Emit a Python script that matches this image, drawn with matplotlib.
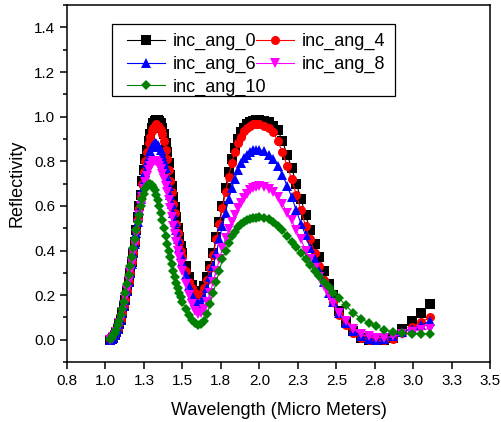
import matplotlib
matplotlib.use('Agg')
import matplotlib.pyplot as plt
from matplotlib.patches import Rectangle
from matplotlib.ticker import MultipleLocator, FormatStrFormatter

plt.rcParams['font.family'] = ['Liberation Sans', 'DejaVu Sans']

# wavelength grid (micro meters)
wavelength = [
    1.03, 1.04, 1.05, 1.06, 1.07, 1.08, 1.09, 1.10, 1.11, 1.12,
    1.13, 1.14, 1.15, 1.16, 1.17, 1.18, 1.19, 1.20, 1.21, 1.22,
    1.23, 1.24, 1.25, 1.26, 1.27, 1.28, 1.29, 1.30, 1.31, 1.32,
    1.33, 1.34, 1.35, 1.36, 1.37, 1.38, 1.39, 1.40, 1.41, 1.42,
    1.43, 1.44, 1.45, 1.46, 1.47, 1.48, 1.49, 1.50,
    1.52, 1.54, 1.56, 1.58, 1.60, 1.62, 1.64, 1.66, 1.68, 1.70,
    1.72, 1.74, 1.76, 1.78, 1.80, 1.82, 1.84, 1.86, 1.88, 1.90,
    1.92, 1.94, 1.96, 1.98, 2.00,
    2.03, 2.06, 2.09, 2.12, 2.15, 2.18, 2.21, 2.24, 2.27, 2.30,
    2.33, 2.36, 2.39, 2.42, 2.45, 2.48,
    2.52, 2.56, 2.61, 2.66, 2.71, 2.76, 2.81, 2.87, 2.93, 2.99, 3.05, 3.11,
]

ang_0 = [
    0.00, 0.005, 0.01, 0.02, 0.035, 0.05, 0.07, 0.09, 0.12, 0.15,
    0.18, 0.22, 0.26, 0.30, 0.35, 0.39, 0.44, 0.49, 0.55, 0.60,
    0.65, 0.71, 0.76, 0.81, 0.85, 0.89, 0.92, 0.95, 0.97, 0.98,
    0.985, 0.985, 0.98, 0.97, 0.95, 0.92, 0.88, 0.84, 0.79, 0.74,
    0.69, 0.64, 0.595, 0.55, 0.50, 0.46, 0.42, 0.39,
    0.33, 0.28, 0.245, 0.22, 0.21, 0.215, 0.24, 0.28, 0.33, 0.39,
    0.46, 0.53, 0.60, 0.68, 0.75, 0.81, 0.86, 0.90, 0.93, 0.95,
    0.965, 0.975, 0.98, 0.985, 0.985,
    0.98, 0.975, 0.96, 0.94, 0.89, 0.83, 0.77, 0.70, 0.63, 0.56,
    0.49, 0.43, 0.37, 0.31, 0.25, 0.20,
    0.13, 0.08, 0.04, 0.01, 0.0, 0.0, 0.0, 0.01, 0.05, 0.085, 0.12, 0.16,
]

ang_4 = [
    0.00, 0.005, 0.01, 0.02, 0.035, 0.05, 0.07, 0.09, 0.12, 0.15,
    0.18, 0.22, 0.26, 0.30, 0.35, 0.39, 0.44, 0.49, 0.54, 0.59,
    0.64, 0.70, 0.75, 0.80, 0.84, 0.88, 0.91, 0.935, 0.95, 0.96,
    0.965, 0.96, 0.955, 0.94, 0.92, 0.89, 0.85, 0.81, 0.76, 0.71,
    0.66, 0.61, 0.57, 0.52, 0.48, 0.44, 0.40, 0.37,
    0.31, 0.26, 0.23, 0.21, 0.20, 0.205, 0.23, 0.27, 0.32, 0.38,
    0.45, 0.52, 0.59, 0.66, 0.73, 0.79, 0.84, 0.88, 0.91, 0.935,
    0.95, 0.96, 0.965, 0.965, 0.965,
    0.96, 0.95, 0.93, 0.89, 0.84, 0.78, 0.72, 0.65, 0.58, 0.51,
    0.45, 0.39, 0.33, 0.27, 0.22, 0.17,
    0.11, 0.065, 0.03, 0.01, 0.0, 0.0, 0.0, 0.005, 0.03, 0.055, 0.08, 0.10,
]

ang_6 = [
    0.00, 0.005, 0.01, 0.02, 0.035, 0.05, 0.07, 0.09, 0.12, 0.15,
    0.18, 0.22, 0.26, 0.30, 0.34, 0.39, 0.43, 0.48, 0.53, 0.58,
    0.63, 0.67, 0.71, 0.75, 0.79, 0.82, 0.845, 0.865, 0.875, 0.88,
    0.88, 0.875, 0.865, 0.85, 0.83, 0.80, 0.77, 0.73, 0.69, 0.65,
    0.61, 0.57, 0.53, 0.49, 0.45, 0.41, 0.38, 0.35,
    0.29, 0.24, 0.20, 0.175, 0.165, 0.17, 0.19, 0.23, 0.28, 0.33,
    0.39, 0.45, 0.51, 0.57, 0.63, 0.68, 0.72, 0.76, 0.79, 0.815,
    0.83, 0.84, 0.85, 0.85, 0.85,
    0.845, 0.83, 0.81, 0.78, 0.74, 0.69, 0.64, 0.58, 0.52, 0.47,
    0.41, 0.36, 0.31, 0.26, 0.21, 0.17,
    0.12, 0.075, 0.04, 0.015, 0.005, 0.0, 0.005, 0.015, 0.035, 0.05, 0.065, 0.085,
]

ang_8 = [
    0.00, 0.005, 0.012, 0.022, 0.037, 0.053, 0.073, 0.095, 0.125, 0.155,
    0.185, 0.225, 0.265, 0.305, 0.345, 0.39, 0.43, 0.475, 0.52, 0.56,
    0.60, 0.64, 0.675, 0.705, 0.735, 0.76, 0.78, 0.79, 0.80, 0.80,
    0.80, 0.79, 0.78, 0.765, 0.745, 0.72, 0.69, 0.66, 0.625, 0.59,
    0.55, 0.51, 0.475, 0.44, 0.40, 0.37, 0.34, 0.31,
    0.25, 0.20, 0.16, 0.13, 0.115, 0.12, 0.14, 0.17, 0.21, 0.26,
    0.31, 0.36, 0.41, 0.455, 0.495, 0.53, 0.56, 0.59, 0.615, 0.635,
    0.655, 0.67, 0.68, 0.685, 0.69,
    0.685, 0.675, 0.66, 0.64, 0.61, 0.57, 0.535, 0.49, 0.45, 0.40,
    0.36, 0.32, 0.28, 0.24, 0.20, 0.165,
    0.12, 0.085, 0.05, 0.025, 0.015, 0.01, 0.01, 0.015, 0.025, 0.035, 0.045, 0.05,
]

ang_10 = [
    0.005, 0.01, 0.02, 0.03, 0.045, 0.065, 0.085, 0.11, 0.14, 0.17,
    0.21, 0.25, 0.29, 0.33, 0.37, 0.41, 0.45, 0.49, 0.53, 0.56,
    0.60, 0.63, 0.655, 0.675, 0.69, 0.70, 0.70, 0.695, 0.685, 0.67,
    0.65, 0.625, 0.60, 0.57, 0.535, 0.50, 0.465, 0.43, 0.40, 0.37,
    0.34, 0.31, 0.28, 0.255, 0.23, 0.21, 0.19, 0.17,
    0.14, 0.11, 0.09, 0.075, 0.065, 0.07, 0.085, 0.115, 0.16, 0.21,
    0.26, 0.31, 0.36, 0.40, 0.435, 0.465, 0.485, 0.505, 0.52, 0.53,
    0.537, 0.542, 0.545, 0.547, 0.548,
    0.545, 0.54, 0.53, 0.51, 0.49, 0.465, 0.44, 0.415, 0.39, 0.36,
    0.335, 0.31, 0.285, 0.26, 0.235, 0.21,
    0.185, 0.155, 0.12, 0.095, 0.075, 0.06, 0.045, 0.035, 0.03, 0.027, 0.027, 0.027,
]

series = [
    ('inc_ang_0', ang_0, 'black', 's'),
    ('inc_ang_4', ang_4, 'red', 'o'),
    ('inc_ang_6', ang_6, 'blue', '^'),
    ('inc_ang_8', ang_8, 'magenta', 'v'),
    ('inc_ang_10', ang_10, 'green', 'D'),
]

x_ticks = [0.75, 1.0, 1.25, 1.5, 1.75, 2.0, 2.25, 2.5, 2.75, 3.0, 3.25, 3.5]
x_labels = ['0.8', '1.0', '1.3', '1.5', '1.8', '2.0', '2.3', '2.5', '2.8', '3.0', '3.3', '3.5']

fig = plt.figure(figsize=(5.02, 4.22), dpi=100)
ax = fig.add_axes([0.1335, 0.142, 0.843, 0.846])

lines = []
for label, ys, color, marker in series:
    ms = 5.5 if marker == 'D' else 6.5
    ln, = ax.plot(wavelength, ys, color=color, marker=marker, ms=ms, lw=0.8,
                  markeredgewidth=0, label=label)
    lines.append(ln)

ax.set_xlim(0.75, 3.5)
ax.set_ylim(-0.1, 1.5)
ax.set_xticks(x_ticks)
ax.set_xticklabels(x_labels)
ax.set_yticks([0.0, 0.2, 0.4, 0.6, 0.8, 1.0, 1.2, 1.4])
ax.yaxis.set_minor_locator(MultipleLocator(0.1))
ax.yaxis.set_major_formatter(FormatStrFormatter('%.1f'))

ax.tick_params(axis='both', which='major', direction='out', length=5, width=1.1,
               labelsize=11, top=False, right=False)
ax.tick_params(axis='y', which='minor', direction='out', length=3, width=1.1)
for sp in ax.spines.values():
    sp.set_linewidth(1.1)

ax.set_xlabel('Wavelength (Micro Meters)', fontsize=13, labelpad=10)
ax.set_ylabel('Reflectivity', fontsize=13, labelpad=6)

# row-wise legend order: 0 4 / 6 8 / 10, frame drawn separately
order = [0, 2, 4, 1, 3]
leg = ax.legend([lines[i] for i in order], [series[i][0] for i in order],
                loc='upper left', bbox_to_anchor=(0.142, 0.921), ncol=2,
                fontsize=13, frameon=False, handlelength=2.1, handletextpad=0.45,
                columnspacing=-0.6, labelspacing=0.3, borderpad=0,
                borderaxespad=0)
ax.add_patch(Rectangle((0.1064, 0.745), 0.669, 0.2017, transform=ax.transAxes,
                       facecolor='white', edgecolor='black', lw=0.9, zorder=4.9))
leg.set_zorder(5)

fig.savefig('out.png', dpi=100)
